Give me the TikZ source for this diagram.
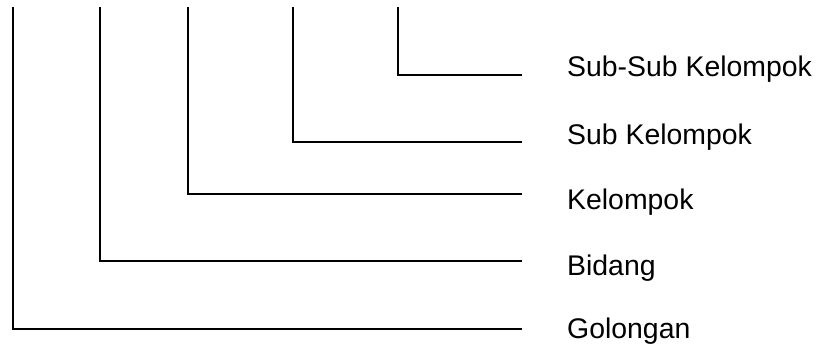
\documentclass[tikz,border=0pt]{standalone}
\usepackage{fontspec}
\setmainfont{Liberation Sans}

\begin{document}
\begin{tikzpicture}[
    x=1pt, y=-1pt,
    font=\fontsize{28.4}{31}\selectfont,
    levelLine/.style={line width=1.5pt, draw=black},
    levelLabel/.style={anchor=base west, inner sep=0pt}
]
\useasboundingbox (0,0) rectangle (817,347);

% Top ends of the vertical lines
\coordinate (topGol) at (13,7);
\coordinate (topBid) at (100,7);
\coordinate (topKel) at (188,7);
\coordinate (topSub) at (293,7);
\coordinate (topSubSub) at (398,7);

% Right ends of the horizontal lines
\coordinate (endGol) at (522,329);
\coordinate (endBid) at (522,261);
\coordinate (endKel) at (522,194);
\coordinate (endSub) at (522,142);
\coordinate (endSubSub) at (522,75);

% Labels
\node[levelLabel] (golongan) at (567,339) {Golongan};
\node[levelLabel] (bidang) at (567,276) {Bidang};
\node[levelLabel] (kelompok) at (567,210) {Kelompok};
\node[levelLabel] (subkel) at (567,145) {Sub Kelompok};
\node[levelLabel] (subsubkel) at (567,77) {Sub-Sub Kelompok};

% Levels
\draw[levelLine] (topGol) |- (endGol);
\draw[levelLine] (topBid) |- (endBid);
\draw[levelLine] (topKel) |- (endKel);
\draw[levelLine] (topSub) |- (endSub);
\draw[levelLine] (topSubSub) |- (endSubSub);

\end{tikzpicture}
\end{document}
